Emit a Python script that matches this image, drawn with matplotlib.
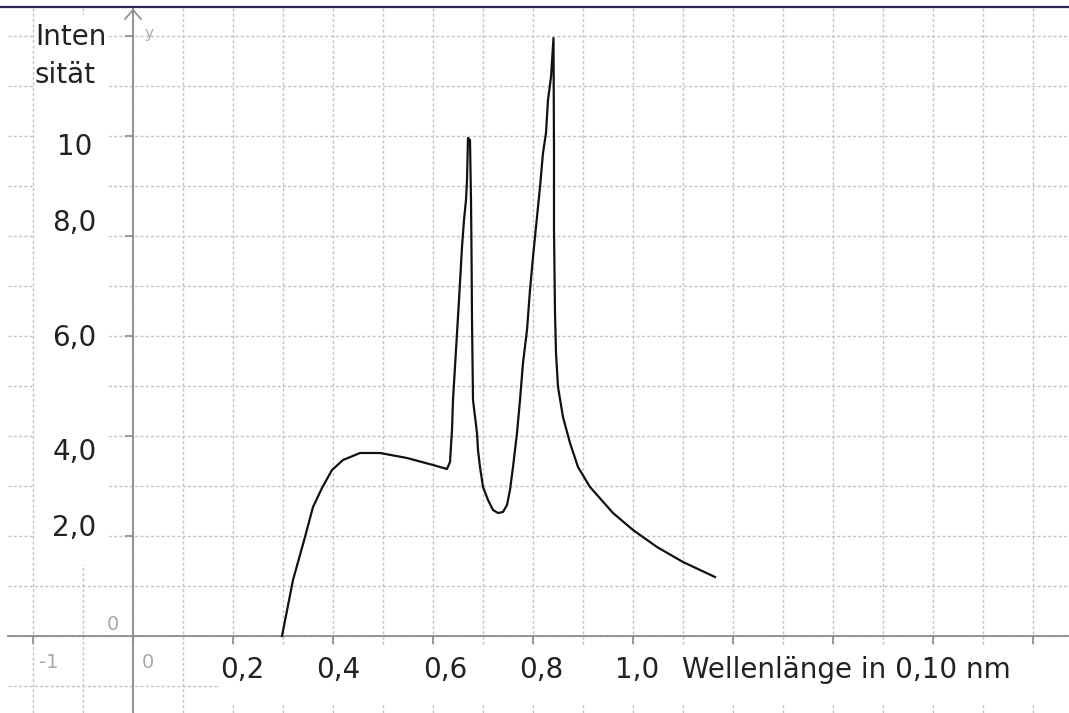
import numpy as np
import matplotlib.pyplot as plt
from matplotlib.patches import Rectangle

# Intensitaet ueber Wellenlaenge
wellenlaenge = [0.298, 0.320, 0.344, 0.360, 0.378, 0.398, 0.420, 0.454, 0.494, 0.548,
                0.600, 0.628, 0.634, 0.638, 0.640, 0.646, 0.652, 0.658, 0.662, 0.666,
                0.668, 0.670, 0.674, 0.676, 0.677, 0.678, 0.680, 0.688, 0.690, 0.694,
                0.700, 0.710, 0.720, 0.730, 0.740, 0.748, 0.754, 0.760, 0.768, 0.774,
                0.780, 0.788, 0.794, 0.800, 0.808, 0.814, 0.820, 0.826, 0.830, 0.836,
                0.841, 0.842, 0.842, 0.844, 0.846, 0.850, 0.860, 0.874, 0.890, 0.914,
                0.960, 1.000, 1.048, 1.100, 1.164]
intensitaet = [0.00, 1.12, 1.98, 2.58, 2.96, 3.32, 3.52, 3.66, 3.66, 3.56,
               3.42, 3.34, 3.48, 4.12, 4.72, 5.72, 6.72, 7.78, 8.32, 8.72,
               9.12, 9.96, 9.92, 8.72, 7.72, 6.32, 4.72, 4.06, 3.72, 3.38,
               2.98, 2.72, 2.52, 2.46, 2.48, 2.62, 2.92, 3.38, 4.06, 4.72,
               5.46, 6.12, 6.92, 7.58, 8.38, 8.98, 9.66, 10.06, 10.72, 11.18,
               11.96, 9.72, 8.12, 6.46, 5.66, 4.98, 4.38, 3.86, 3.38, 2.98,
               2.46, 2.12, 1.78, 1.48, 1.18]

x_labels = ['0,2', '0,4', '0,6', '0,8', '1,0']
x_label_pos = [0.219, 0.411, 0.625, 0.816, 1.008]
y_labels = ['10', '8,0', '6,0', '4,0', '2,0']
y_label_pos = [9.78, 8.26, 5.96, 3.68, 2.16]

grau = '#8c8c8c'
gitter = '#c4c4c4'

fig = plt.figure(figsize=(10.69, 7.13), dpi=100)
ax = fig.add_axes([8/1069, 0, 1 - 8/1069, 1 - 8/713])
ax.set_xlim(-0.25, 1.872)
ax.set_ylim(-1.54, 12.56)

# Gitter
for pos in np.arange(-0.2, 1.85, 0.1):
    ax.axvline(x=pos, color=gitter, linestyle=(0, (2.2, 1.6)), linewidth=1, zorder=1)
for pos in range(-1, 13):
    ax.axhline(y=pos, color=gitter, linestyle=(0, (2.2, 1.6)), linewidth=1, zorder=1)

# weisse Hintergruende der Beschriftungen
ax.add_patch(Rectangle((-0.196, 1.42), 0.146, 11.0, facecolor='white', edgecolor='none', zorder=1.5))
ax.add_patch(Rectangle((0.174, -1.34), 1.72, 1.16, facecolor='white', edgecolor='none', zorder=1.5))

ax.plot(wellenlaenge, intensitaet, color='#111111', linewidth=1.6, zorder=3)

# Achsen durch den Ursprung
for s in ['top', 'right']:
    ax.spines[s].set_visible(False)
ax.spines['left'].set_position(('data', 0))
ax.spines['bottom'].set_position(('data', 0))
for s in ['left', 'bottom']:
    ax.spines[s].set_color(grau)
    ax.spines[s].set_linewidth(1.3)
ax.set_xticks(np.arange(-0.2, 1.85, 0.2))
ax.set_yticks(np.arange(2, 13, 2))
ax.tick_params(axis='x', direction='out', length=6, width=1.2, color=grau, labelbottom=False)
ax.tick_params(axis='y', direction='out', length=6, width=1.2, color=grau, labelleft=False)

# Pfeil der y-Achse
ax.plot([-0.016, 0, 0.016], [12.34, 12.52, 12.34], color=grau, linewidth=1.2, clip_on=False)

for lab, pos in zip(x_labels, x_label_pos):
    ax.text(pos, -0.68, lab, fontsize=20, ha='center', va='center', color='#222222', zorder=4)
ax.text(1.098, -0.68, 'Wellenlänge in 0,10 nm', fontsize=20, ha='left', va='center',
        color='#222222', zorder=4)
for lab, pos in zip(y_labels, y_label_pos):
    ax.text(-0.117, pos, lab, fontsize=20, ha='center', va='center', color='#222222', zorder=4)
ax.text(-0.196, 11.82, 'Inten', fontsize=20, ha='left', va='baseline', color='#222222', zorder=4)
ax.text(-0.196, 11.06, 'sität', fontsize=20, ha='left', va='baseline', color='#222222', zorder=4)

# graue Standardbeschriftungen
ax.text(-0.168, -0.52, '-1', fontsize=14, ha='center', va='center', color='#a8a8a8')
ax.text(0.03, -0.52, '0', fontsize=14, ha='center', va='center', color='#a8a8a8')
ax.text(-0.04, 0.22, '0', fontsize=14, ha='center', va='center', color='#a8a8a8')
ax.text(0.032, 12.06, 'y', fontsize=11, ha='center', va='center', color='#a8a8a8')

# oberer Fensterrand
fig.add_artist(plt.Line2D([0, 1], [1 - 7/713, 1 - 7/713], color='#2a2a55', linewidth=1.6))

fig.savefig('out.png', dpi=100)
